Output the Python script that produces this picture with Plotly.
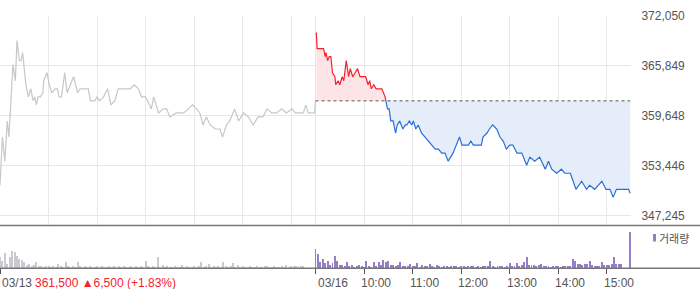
import plotly.graph_objects as go

# ---- price data (minutes from 03/13 09:00; 03/16 09:00 = 390) ----
prev_m = [0, 3, 6, 9, 11, 16, 19, 21, 24, 26, 28, 30, 32, 35, 38, 41, 43, 45, 47, 50, 53, 54, 58, 61, 64,
          68, 71, 73, 76, 80, 83, 87, 91, 96, 99, 102, 106, 109, 112, 117, 120, 123, 128, 133, 137, 142,
          146, 150, 156, 161, 166, 171, 175, 180, 187, 190, 196, 202, 206, 210, 218, 227, 233, 238, 243,
          247, 251, 255, 260, 266, 272, 275, 280, 284, 290, 295, 301, 307, 313, 319, 325, 330, 336, 342,
          348, 354, 361, 365, 371, 375, 378, 381, 389, 390]
prev_p = [351000, 357000, 354000, 359000, 357000, 366000, 364000, 369000, 366500, 366500, 367500, 365500,
          363500, 362000, 363000, 361500, 362000, 361000, 362000, 362000, 362500, 364000, 365000, 363500,
          362500, 363000, 363000, 362000, 362000, 365000, 362500, 363500, 364500, 362500, 363000, 363000,
          363000, 363000, 361500, 361500, 362000, 361500, 362000, 363000, 361000, 361500, 363000, 363000,
          363000, 363000, 363500, 363000, 362000, 362000, 360500, 362000, 360000, 360500, 360500, 359500,
          360000, 360000, 360500, 361000, 360500, 360000, 358500, 359500, 358500, 358000, 358000, 357000,
          358500, 359000, 360500, 359000, 360000, 359500, 358500, 359500, 359500, 360500, 360000, 360000,
          360500, 360000, 360500, 360000, 360000, 360000, 361000, 360000, 360000, 361500]

up_m = [391, 392, 398, 400, 402, 403, 405, 407, 409, 411, 414, 415, 418, 420, 423, 425, 428, 431, 433, 436,
        439, 442, 445, 449, 452, 455, 457, 459, 462, 465, 468, 472, 474, 476, 477]
up_p = [370000, 368000, 368000, 368000, 367000, 367500, 366500, 367000, 367000, 365000, 364500, 363500,
        364000, 363500, 364500, 364000, 366500, 364500, 365500, 364500, 365000, 365500, 364500, 364500,
        364500, 363500, 364000, 363000, 363500, 363000, 363000, 363000, 362500, 362000, 361500]

down_m = [477, 479, 481, 483, 486, 489, 491, 494, 498, 501, 503, 506, 509, 511, 514, 517, 521, 525, 529, 534,
          538, 542, 546, 550, 554, 560, 564, 568, 571, 575, 579, 582, 585, 589, 595, 597, 602, 605, 609, 614,
          618, 622, 626, 630, 634, 639, 645, 651, 655, 661, 667, 674, 678, 682, 688, 694, 698, 705, 709, 712,
          719, 725, 729, 735, 744, 749, 754, 758, 762, 768, 777, 779]
down_p = [361500, 360500, 360500, 359000, 359000, 357500, 358500, 359000, 358000, 358500, 358500, 359000,
          358500, 359000, 358000, 358500, 357500, 357000, 356500, 356000, 355500, 355500, 355000, 355000,
          354000, 355000, 356000, 357000, 356000, 356000, 356000, 356500, 356000, 356000, 356000, 357000,
          357500, 358000, 358500, 358000, 357000, 356500, 355500, 356000, 356000, 355000, 355000, 353500,
          354500, 354000, 354500, 353000, 354000, 353000, 352500, 353000, 352500, 352500, 351500, 350500,
          351500, 350500, 351000, 350500, 351500, 350500, 350500, 349500, 350500, 350500, 350500, 350000]

prev_close = 361500

# ---- volume data (relative units) ----
vol1_m = list(range(0, 378, 3))
vol1 = [11, 7, 15, 4, 11, 17, 16, 12, 9, 8, 6, 3, 4, 2, 3, 6, 2, 2, 1, 2, 2, 1, 2, 1, 4, 2, 1, 6, 2, 1,
        2, 1, 6, 2, 1, 2, 1, 2, 1, 1, 2, 1, 2, 1, 1, 2, 1, 2, 1, 2, 1, 2, 1, 1, 2, 1, 2, 1, 2, 1,
        7, 2, 1, 2, 1, 11, 1, 3, 1, 2, 1, 1, 2, 1, 1, 3, 1, 2, 1, 1, 2, 1, 2, 6, 1, 2, 4, 1, 2, 1,
        2, 1, 6, 2, 1, 2, 5, 1, 3, 1, 2, 1, 1, 2, 1, 1, 2, 1, 1, 2, 2, 1, 1, 2, 1, 1, 2, 1, 3, 1,
        2, 2, 2, 2, 2, 2]
vol2_m = list(range(390, 771, 3)) + [779]
vol2 = [19, 14, 6, 9, 5, 7, 3, 5, 12, 7, 3, 3, 2, 6, 2, 3, 1, 2, 3, 2, 1, 7, 2, 1, 6, 2, 6, 3, 8, 6,
        7, 3, 3, 2, 3, 6, 2, 2, 2, 4, 2, 2, 5, 1, 3, 2, 2, 4, 2, 1, 3, 2, 1, 2, 2, 1, 2, 2, 2, 1,
        2, 2, 1, 2, 2, 2, 1, 2, 1, 2, 2, 2, 7, 2, 1, 2, 2, 2, 1, 2, 5, 2, 2, 5, 2, 3, 6, 11, 3, 3,
        3, 2, 3, 4, 2, 2, 2, 1, 2, 2, 2, 1, 2, 2, 2, 2, 9, 7, 4, 4, 3, 4, 4, 7, 3, 2, 2, 2, 6, 3,
        3, 3, 4, 11, 4, 4, 4, 36]

y_ticks = [347245, 353446, 359648, 365849, 372050]
grid_m = [0, 60, 120, 180, 240, 300, 360, 390, 450, 510, 570, 630, 690, 750]
date_ticks = [0, 390]
date_labels = ["03/13", "03/16"]
time_ticks = [450, 510, 570, 630, 690, 750]
time_labels = ["10:00", "11:00", "12:00", "13:00", "14:00", "15:00"]
info_text = "361,500 ▲6,500 (+1.83%)"
legend_text = "거래량"

FONT = "Liberation Sans, Arial, Noto Sans CJK KR, sans-serif"
W, H = 700, 289

def py(px):
    return (H - px) / H

fig = go.Figure()

fig.add_trace(go.Scatter(x=prev_m, y=prev_p, mode="lines", line=dict(color="#c5c7cc", width=1.2),
                         xaxis="x", yaxis="y", hoverinfo="skip"))
fig.add_trace(go.Scatter(x=[up_m[0], up_m[-1]], y=[prev_close, prev_close], mode="lines",
                         line=dict(width=0, color="rgba(0,0,0,0)"), xaxis="x", yaxis="y", hoverinfo="skip"))
fig.add_trace(go.Scatter(x=up_m, y=up_p, mode="lines", line=dict(color="#f5222d", width=1.2),
                         fill="tonexty", fillcolor="#fde5e7", xaxis="x", yaxis="y", hoverinfo="skip"))
fig.add_trace(go.Scatter(x=[down_m[0], down_m[-1]], y=[prev_close, prev_close], mode="lines",
                         line=dict(width=0, color="rgba(0,0,0,0)"), xaxis="x", yaxis="y", hoverinfo="skip"))
fig.add_trace(go.Scatter(x=down_m, y=down_p, mode="lines", line=dict(color="#2a6fd6", width=1.2),
                         fill="tonexty", fillcolor="#e4edf9", xaxis="x", yaxis="y", hoverinfo="skip"))
fig.add_trace(go.Scatter(x=[390, 779], y=[prev_close, prev_close], mode="lines",
                         line=dict(color="#555555", width=1, dash="dot"), xaxis="x", yaxis="y", hoverinfo="skip"))

fig.add_trace(go.Bar(x=vol1_m, y=vol1, width=1.2, marker=dict(color="#c8cacf", line=dict(width=0)),
                     xaxis="x2", yaxis="y2", hoverinfo="skip"))
fig.add_trace(go.Bar(x=vol2_m, y=vol2, width=1.2, marker=dict(color="#957dc8", line=dict(width=0)),
                     xaxis="x2", yaxis="y2", hoverinfo="skip"))

xdom = [0, 631 / W]
fig.update_layout(
    width=W, height=H, margin=dict(l=0, r=0, t=0, b=0),
    paper_bgcolor="white", plot_bgcolor="white", showlegend=False, bargap=0,
    font=dict(family=FONT, size=12, color="#555555"),
    xaxis=dict(domain=xdom, range=[0, 780], tickvals=grid_m, showticklabels=False, showgrid=True,
               gridcolor="#e8e8e8", gridwidth=1, zeroline=False, showline=False, ticks="", fixedrange=True),
    yaxis=dict(domain=[py(225.5), py(16)], range=[346000, 372050], tickvals=y_ticks, side="right",
               tickformat=",d", showgrid=True, gridcolor="#e8e8e8", gridwidth=1, zeroline=False,
               ticks="outside", ticklen=7, tickcolor="rgba(0,0,0,0)", automargin=False,
               tickfont=dict(family=FONT, size=12, color="#555555"), anchor="x"),
    xaxis2=dict(domain=xdom, range=[0, 780], anchor="y2", tickvals=date_ticks + time_ticks,
                showticklabels=False, ticks="outside", ticklen=5, tickcolor="#555555", tickwidth=1,
                showgrid=False, zeroline=False, showline=False),
    yaxis2=dict(domain=[py(268.3), py(228.3)], range=[0, 40], showticklabels=False, showgrid=False,
                zeroline=False, anchor="x2"),
)

shapes = [
    dict(type="line", xref="paper", yref="paper", x0=0, x1=1, y0=py(225.5), y1=py(225.5),
         line=dict(color="#777777", width=1.5)),
    dict(type="line", xref="paper", yref="paper", x0=0, x1=1, y0=py(268.3), y1=py(268.3),
         line=dict(color="#777777", width=1.5)),
    dict(type="rect", xref="paper", yref="paper", x0=653 / W, x1=656 / W, y0=py(241.5), y1=py(234),
         fillcolor="#957dc8", line=dict(width=0)),
]
fig.update_layout(shapes=shapes)

ann = []
lab_y = py(283)
for t, lab in zip(date_ticks, date_labels):
    ann.append(dict(x=t, xref="x2", y=lab_y, yref="paper", text=lab, showarrow=False, xanchor="left",
                    yanchor="middle", font=dict(family=FONT, size=12, color="#555555")))
for t, lab in zip(time_ticks, time_labels):
    ann.append(dict(x=t, xref="x2", y=lab_y, yref="paper", text=lab, showarrow=False, xanchor="left",
                    xshift=-5, yanchor="middle", font=dict(family=FONT, size=12, color="#555555")))
ann.append(dict(x=33 / W, xref="paper", y=lab_y, yref="paper", text=info_text, showarrow=False,
                xanchor="left", yanchor="middle", font=dict(family=FONT, size=12, color="#f5222d")))
ann.append(dict(x=657 / W, xref="paper", y=py(238), yref="paper", text=legend_text, showarrow=False,
                xanchor="left", yanchor="middle",
                font=dict(family="Noto Sans CJK KR, sans-serif", size=11, color="#555555")))
fig.update_layout(annotations=ann)

fig.write_html("out.html", config={"displayModeBar": False})
